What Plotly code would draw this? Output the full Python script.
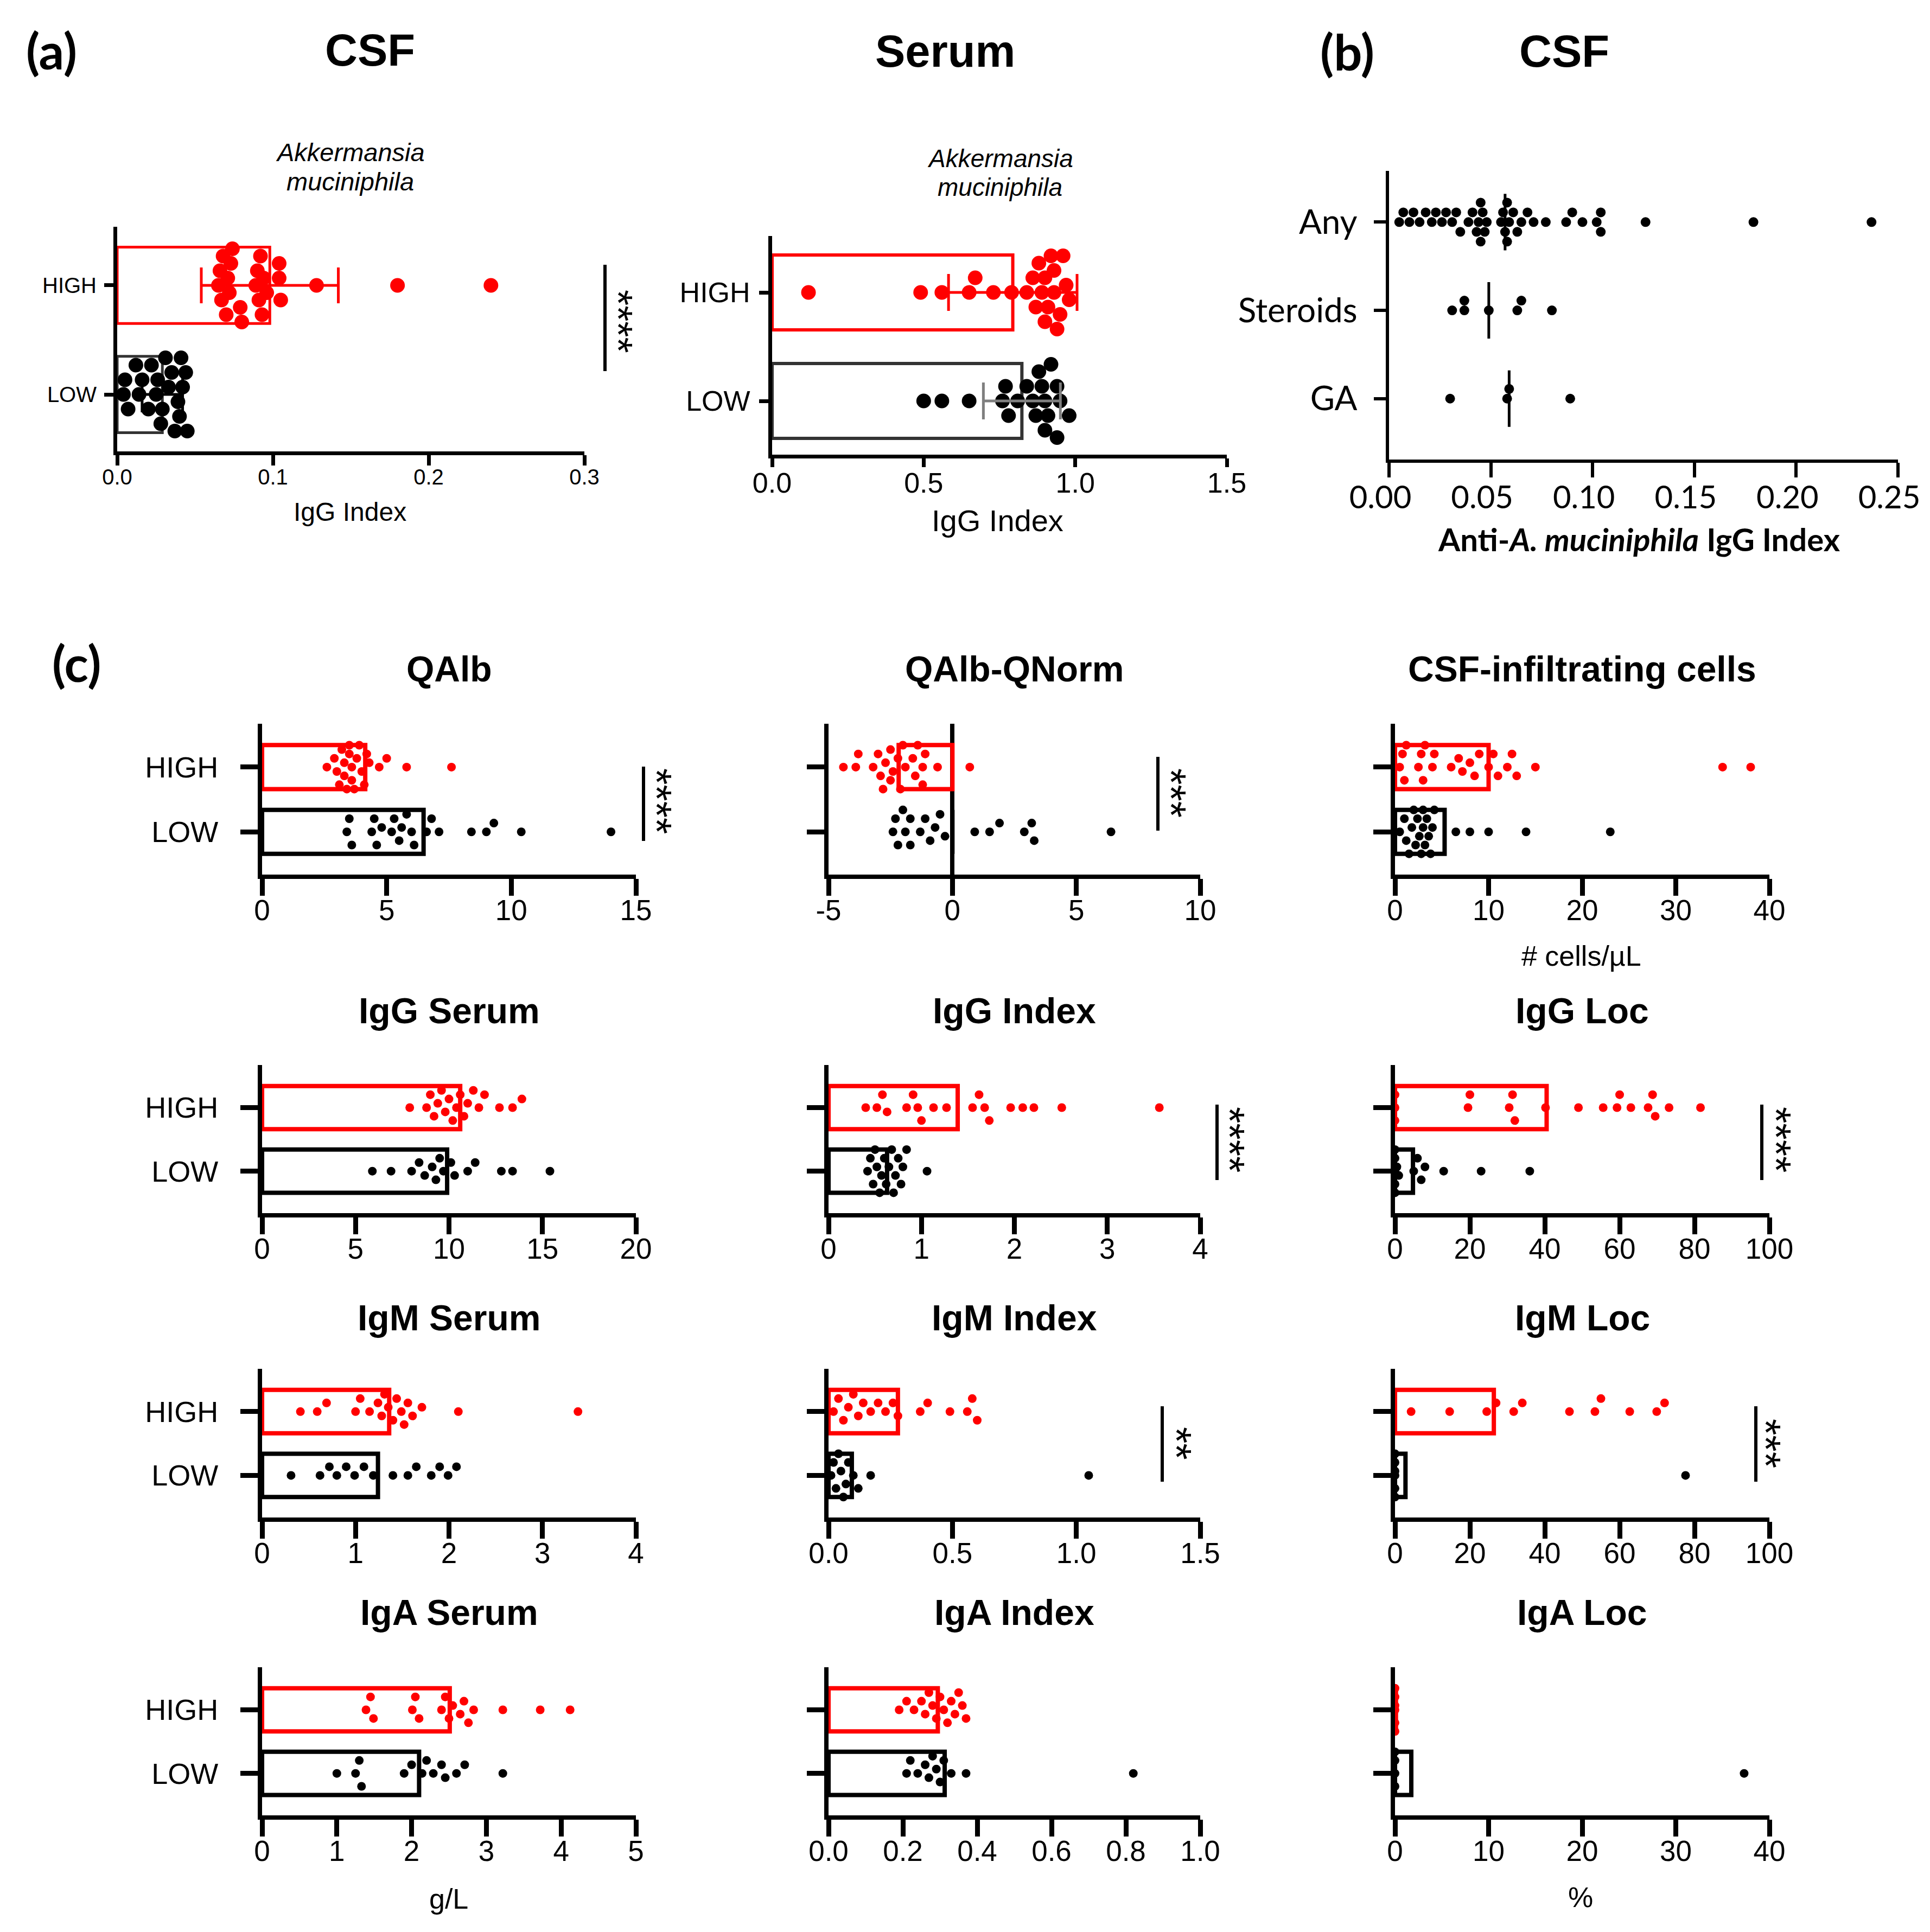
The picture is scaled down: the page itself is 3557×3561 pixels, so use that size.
import plotly.graph_objects as go
import numpy as np

W, H = 3557, 3561
OFF = 8                      # browser body margin
PW, PH = W - 2 * OFF, H - 2 * OFF
RED = "#FF0000"
BLK = "#000000"
ARIAL = "Liberation Sans, Arial, sans-serif"
CALIB = "Lato, Carlito, Calibri, sans-serif"

# ---------------- data ----------------
# (a) anti-A. muciniphila IgG index
a_csf_high = [0.065, 0.066, 0.067, 0.068, 0.070, 0.071, 0.072, 0.073, 0.074, 0.079, 0.080, 0.089,
              0.090, 0.091, 0.092, 0.093, 0.094, 0.096, 0.104, 0.104, 0.105, 0.128, 0.180, 0.240]
a_csf_low = [0.004, 0.005, 0.007, 0.012, 0.014, 0.016, 0.020, 0.022, 0.025, 0.026, 0.028, 0.029,
             0.031, 0.033, 0.035, 0.037, 0.039, 0.040, 0.041, 0.042, 0.044, 0.045]
a_csf_mean = [0.029, 0.098]          # LOW, HIGH
a_csf_sd = [0.013, 0.044]

a_ser_high = [0.12, 0.49, 0.56, 0.65, 0.67, 0.73, 0.79, 0.84, 0.86, 0.87, 0.88, 0.89, 0.90, 0.90,
              0.91, 0.92, 0.93, 0.93, 0.94, 0.95, 0.96, 0.97, 0.98]
a_ser_low = [0.50, 0.56, 0.65, 0.76, 0.77, 0.78, 0.81, 0.84, 0.86, 0.87, 0.88, 0.89, 0.90, 0.90,
             0.91, 0.92, 0.94, 0.94, 0.95, 0.98]
a_ser_mean = [0.824, 0.794]
a_ser_sd = [0.127, 0.212]

# (b) CSF by treatment
b_cats = ["GA", "Steroids", "Any"]
b_any = [0.005, 0.007, 0.010, 0.012, 0.015, 0.018, 0.021, 0.023, 0.026, 0.028, 0.031, 0.033, 0.035,
         0.039, 0.041, 0.043, 0.044, 0.045, 0.045, 0.046, 0.047, 0.048, 0.055, 0.056, 0.057, 0.058,
         0.058, 0.059, 0.061, 0.063, 0.065, 0.068, 0.071, 0.077, 0.087, 0.090, 0.095, 0.102, 0.104,
         0.104, 0.126, 0.179, 0.237]
b_steroids = [0.031, 0.037, 0.037, 0.049, 0.063, 0.065, 0.080]
b_ga = [0.030, 0.058, 0.059, 0.089]
b_median = [0.059, 0.049, 0.057]     # GA, Steroids, Any

# (c) clinical parameters, HIGH vs LOW
qalb_high = [2.6, 2.9, 3.0, 3.1, 3.2, 3.3, 3.3, 3.4, 3.5, 3.5, 3.6, 3.6, 3.7, 3.8, 3.9, 4.0, 4.1,
             4.2, 4.3, 4.7, 5.0, 5.8, 7.6]
qalb_low = [3.4, 3.5, 3.6, 4.4, 4.5, 4.6, 4.8, 5.2, 5.3, 5.5, 5.6, 5.8, 6.0, 6.1, 6.6, 6.8, 7.1,
            8.4, 9.0, 9.3, 10.4, 14.0]
qalb_mean = [6.48, 4.14]

qnorm_high = [-4.4, -3.9, -3.8, -3.2, -3.0, -2.9, -2.8, -2.7, -2.5, -2.5, -2.4, -2.2, -2.1, -2.0,
              -1.9, -1.6, -1.5, -1.4, -1.2, -1.2, -1.1, -0.6, 0.7]
qnorm_low = [-2.4, -2.3, -2.2, -2.0, -1.9, -1.7, -1.7, -1.3, -1.1, -0.9, -0.7, -0.5, -0.3, 0.9,
             1.5, 1.9, 2.9, 3.2, 3.3, 6.4]
qnorm_mean = [0.0, -2.17]

cells_high = [0.5, 0.8, 1.0, 1.2, 2.5, 2.8, 3.0, 3.2, 4.0, 4.2, 6.0, 6.8, 7.2, 8.0, 8.5, 9.0, 10.0,
              10.5, 11.0, 12.0, 12.5, 13.0, 15.0, 35.0, 38.0]
cells_low = [0.5, 1.0, 1.2, 1.5, 1.8, 2.0, 2.2, 2.4, 2.6, 2.8, 3.0, 3.0, 3.2, 3.4, 3.6, 3.8, 4.0,
             4.2, 6.5, 8.0, 10.0, 14.0, 23.0]
cells_mean = [5.3, 10.0]

iggs_high = [7.9, 8.8, 9.0, 9.2, 9.4, 9.6, 9.8, 10.0, 10.2, 10.4, 10.6, 10.8, 11.0, 11.3, 11.6,
             11.9, 12.7, 13.4, 13.9]
iggs_low = [5.9, 6.9, 8.0, 8.4, 8.7, 9.1, 9.3, 9.5, 9.7, 10.1, 10.3, 11.0, 11.4, 12.8, 13.4, 15.4]
iggs_mean = [9.9, 10.6]

iggi_high = [0.40, 0.52, 0.58, 0.63, 0.84, 0.91, 0.96, 1.00, 1.13, 1.27, 1.55, 1.62, 1.68, 1.73,
             1.96, 2.09, 2.21, 2.51, 3.56]
iggi_low = [0.42, 0.45, 0.48, 0.50, 0.52, 0.55, 0.57, 0.60, 0.62, 0.65, 0.68, 0.70, 0.72, 0.75,
            0.78, 0.80, 0.84, 1.06]
iggi_mean = [0.63, 1.39]

iggl_high = [0, 0, 0, 19.5, 20, 30.5, 31.4, 32, 40.2, 49, 55.6, 59.3, 60, 63, 67.6, 68.8, 69.5,
             73.2, 81.6]
iggl_low = [0, 0, 0, 0, 0, 0.5, 1, 5, 6, 7, 8, 13, 23, 36]
iggl_mean = [4.8, 40.5]

igms_high = [0.41, 0.59, 0.69, 1.0, 1.05, 1.15, 1.24, 1.28, 1.31, 1.35, 1.40, 1.44, 1.49, 1.52,
             1.56, 1.61, 1.71, 2.1, 3.38]
igms_low = [0.31, 0.62, 0.72, 0.80, 0.90, 0.99, 1.09, 1.19, 1.40, 1.56, 1.65, 1.81, 1.90, 1.99, 2.08]
igms_mean = [1.24, 1.36]

igmi_high = [0.02, 0.04, 0.06, 0.08, 0.10, 0.12, 0.14, 0.17, 0.20, 0.23, 0.26, 0.28, 0.37, 0.40,
             0.49, 0.56, 0.58, 0.60]
igmi_low = [0.01, 0.02, 0.03, 0.04, 0.05, 0.06, 0.07, 0.08, 0.10, 0.12, 0.17, 1.05]
igmi_mean = [0.094, 0.28]

igml_high = [4.3, 14.6, 24.5, 27, 31.7, 34, 46.6, 53.4, 55, 62.7, 69.9, 72]
igml_low = [0, 0, 0, 0, 0, 0, 77.6]
igml_mean = [2.8, 26.4]

igas_high = [1.39, 1.45, 1.49, 2.01, 2.05, 2.10, 2.40, 2.45, 2.50, 2.55, 2.65, 2.70, 2.76, 2.83,
             3.22, 3.72, 4.12]
igas_low = [1.00, 1.25, 1.30, 1.33, 1.90, 2.00, 2.14, 2.20, 2.29, 2.40, 2.45, 2.60, 2.71, 3.22]
igas_mean = [2.1, 2.51]

igai_high = [0.19, 0.21, 0.23, 0.25, 0.26, 0.27, 0.28, 0.29, 0.30, 0.31, 0.32, 0.33, 0.34, 0.35,
             0.36, 0.37]
igai_low = [0.21, 0.22, 0.24, 0.26, 0.27, 0.28, 0.29, 0.30, 0.31, 0.33, 0.37, 0.82]
igai_mean = [0.3125, 0.294]

igal_high = [0, 0, 0, 0, 0, 0]
igal_low = [0, 0, 0, 0, 37.3]
igal_mean = [1.74, 0.1]

# tick values
t_qalb = [0, 5, 10, 15]
t_qnorm = [-5, 0, 5, 10]
t_cells = [0, 10, 20, 30, 40]
t_iggs = [0, 5, 10, 15, 20]
t_iggi = [0, 1, 2, 3, 4]
t_loc = [0, 20, 40, 60, 80, 100]
t_igms = [0, 1, 2, 3, 4]
t_igmi = [0.0, 0.5, 1.0, 1.5]
t_igas = [0, 1, 2, 3, 4, 5]
t_igai = [0.0, 0.2, 0.4, 0.6, 0.8, 1.0]
t_igal = [0, 10, 20, 30, 40]

# ---------------- helpers ----------------
def fx(x):
    return (x - OFF) / PW


def fy(y):
    return 1 - (y - OFF) / PH


fig = go.Figure()
lay = {}
annotations = []
shapes = []


def axnames(n):
    return ("x" if n == 1 else f"x{n}"), ("y" if n == 1 else f"y{n}"), \
           ("xaxis" if n == 1 else f"xaxis{n}"), ("yaxis" if n == 1 else f"yaxis{n}")


def swarm(vals, xppu, yppu, d, maxoff, sep=1.1):
    order = sorted(range(len(vals)), key=lambda i: vals[i])
    placed = []
    offs = [0.0] * len(vals)
    step = d * 0.5
    cands = [0.0]
    k = 1
    while k * step <= maxoff:
        cands += [k * step, -k * step]
        k += 1
    for i in order:
        xp = vals[i] * xppu
        best, bestscore = 0.0, -1.0
        for c in cands:
            md = min([np.hypot(xp - p, c - q) for p, q in placed] or [1e9])
            if md >= d * sep:
                best = c
                break
            if md > bestscore:
                bestscore, best = md, c
        placed.append((xp, best))
        offs[i] = best / yppu
    return offs


def add_axes(n, xpx, ypx, xr, yr, tickvals, ticktext, xfont, ycats, ylabels, yfont,
             lw, tlx, tly, tw, standoff, zeroline=False, shift=0, xstand=0):
    xr_name, yr_name, xa, ya = axnames(n)
    lay[xa] = dict(domain=[fx(xpx[0]), fx(xpx[1])], range=xr, anchor=yr_name,
                   showline=True, linecolor=BLK, linewidth=lw, ticks="outside",
                   ticklen=tlx, tickwidth=tw, tickcolor=BLK, tickvals=tickvals,
                   ticktext=ticktext, tickfont=xfont, showgrid=False, automargin=False,
                   zeroline=zeroline, zerolinecolor=BLK, zerolinewidth=lw,
                   ticklabelshift=shift, ticklabelstandoff=xstand)
    lay[ya] = dict(domain=[fy(ypx[1]), fy(ypx[0])], range=yr, anchor=xr_name,
                   showline=True, linecolor=BLK, linewidth=lw, ticks="outside",
                   ticklen=tly, tickwidth=tw, tickcolor=BLK, tickvals=ycats,
                   ticktext=ylabels, tickfont=yfont, showgrid=False, zeroline=False,
                   automargin=False, ticklabelstandoff=standoff)
    return xr_name, yr_name


def add_points(xn, yn, vals, cat, color, d, xppu, yppu, maxoff, sep=1.1):
    offs = swarm(vals, xppu, yppu, d, maxoff, sep)
    fig.add_trace(go.Scatter(x=vals, y=[cat + o for o in offs], mode="markers",
                             marker=dict(size=d, color=color, line=dict(width=0)),
                             xaxis=xn, yaxis=yn, cliponaxis=False, hoverinfo="skip"))


def add_bar(xn, yn, means, colors, width, lw):
    fig.add_trace(go.Bar(x=means, y=[0, 1], orientation="h", width=width,
                         marker=dict(color="rgba(0,0,0,0)", line=dict(color=colors, width=lw)),
                         xaxis=xn, yaxis=yn, cliponaxis=False, hoverinfo="skip"))


def text(s, xp, yp, size, family=ARIAL, angle=0, color=BLK):
    annotations.append(dict(text=s, x=fx(xp), y=fy(yp), xref="paper", yref="paper",
                            xanchor="center", yanchor="middle", showarrow=False,
                            textangle=angle, font=dict(size=size, family=family, color=color)))


def sig(xp, y0, y1, stars, sx, sy, size=78):
    shapes.append(dict(type="line", xref="paper", yref="paper", x0=fx(xp), x1=fx(xp),
                       y0=fy(y0), y1=fy(y1), line=dict(color=BLK, width=6)))
    text(stars, sx - 12, sy, size, angle=90)


def fmt(v, dec):
    return f"{v:.{dec}f}"


# ---------------- panel (a) CSF ----------------
xpx, ypx = (216, 1077), (418, 832)
ta = [0, 0.1, 0.2, 0.3]
xn, yn = add_axes(1, xpx, ypx, [0, 0.3], [-0.522, 1.537], ta, [fmt(v, 1) for v in ta],
                  dict(size=40, family=ARIAL, color=BLK), [0, 1], ["LOW", "HIGH"],
                  dict(size=40, family=ARIAL, color=BLK), 7, 19, 17, 7, 6, xstand=-13)
xppu = (xpx[1] - xpx[0]) / 0.3
add_bar(xn, yn, a_csf_mean, ["#333333", RED], 0.70, 5)
add_points(xn, yn, a_csf_low, 0, BLK, 27, xppu, 201, 68, 1.0)
add_points(xn, yn, a_csf_high, 1, RED, 27, xppu, 201, 68, 1.0)
for cat, col in [(0, BLK), (1, RED)]:
    fig.add_trace(go.Scatter(x=[a_csf_mean[cat]], y=[cat], mode="markers",
                             marker=dict(size=1, color="rgba(0,0,0,0)"),
                             error_x=dict(type="data", array=[a_csf_sd[cat]], color=col,
                                          thickness=5, width=33),
                             xaxis=xn, yaxis=yn, cliponaxis=False, hoverinfo="skip"))
text("<b>(a)</b>", 95, 92, 92, CALIB)
text("<b>CSF</b>", 682, 92, 83)
text("<i>Akkermansia</i>", 645, 281, 47)
text("<i>muciniphila</i>", 645, 335, 47)
text("IgG Index", 645, 943, 48)
sig(1115, 488, 684, "****", 1152, 592, 75)

# ---------------- panel (a) Serum ----------------
xpx, ypx = (1423, 2261), (435, 838)
ts = [0, 0.5, 1.0, 1.5]
xn, yn = add_axes(2, xpx, ypx, [0, 1.5], [-0.495, 1.52], ts, [fmt(v, 1) for v in ts],
                  dict(size=52, family=ARIAL, color=BLK), [0, 1], ["LOW", "HIGH"],
                  dict(size=52, family=ARIAL, color=BLK), 7, 16, 17, 7, 6, xstand=-15)
xppu = (xpx[1] - xpx[0]) / 1.5
add_bar(xn, yn, a_ser_mean, ["#333333", RED], 0.69, 6)
add_points(xn, yn, a_ser_low, 0, BLK, 27, xppu, 200, 68, 1.0)
add_points(xn, yn, a_ser_high, 1, RED, 27, xppu, 200, 68, 1.0)
for cat, col in [(0, "#7f7f7f"), (1, RED)]:
    fig.add_trace(go.Scatter(x=[a_ser_mean[cat]], y=[cat], mode="markers",
                             marker=dict(size=1, color="rgba(0,0,0,0)"),
                             error_x=dict(type="data", array=[a_ser_sd[cat]], color=col,
                                          thickness=5, width=34),
                             xaxis=xn, yaxis=yn, cliponaxis=False, hoverinfo="skip"))
text("<b>Serum</b>", 1742, 95, 83)
text("<i>Akkermansia</i>", 1843, 292, 46)
text("<i>muciniphila</i>", 1843, 345, 46)
text("IgG Index", 1839, 960, 56)

# ---------------- panel (b) ----------------
xpx, ypx = (2560, 3498), (315, 847)
bt = [0, 0.05, 0.10, 0.15, 0.20, 0.25]
xn, yn = add_axes(3, xpx, ypx, [0, 0.25], [-0.69, 2.58], bt, [fmt(v, 2) for v in bt],
                  dict(size=58, family=CALIB, color=BLK), [0, 1, 2], b_cats,
                  dict(size=62, family=CALIB, color=BLK), 6, 27, 22, 6, 18, shift=-16, xstand=-13)
xppu = (xpx[1] - xpx[0]) / 0.25
for cat, vals in enumerate([b_ga, b_steroids, b_any]):
    add_points(xn, yn, vals, cat, BLK, 18, xppu, 163, 52, 1.0)
    shapes.append(dict(type="line", xref=xn, yref=yn, x0=b_median[cat], x1=b_median[cat],
                       y0=cat - 0.32, y1=cat + 0.32, line=dict(color=BLK, width=5)))
text("<b>(b)</b>", 2483, 94, 92, CALIB)
text("<b>CSF</b>", 2883, 94, 83)
text("<b>Anti-<i>A. muciniphila</i> IgG Index</b>", 3021, 994, 58, CALIB)

# ---------------- panel (c) ----------------
COLX = [(483, 1172), (1527, 2212), (2571, 3261)]
ROWY = [(1334, 1612), (1963, 2236), (2523, 2797), (3073, 3346)]
TITLEY = [1233, 1863, 2429, 2972]

panels_c = [
    ("QAlb", qalb_high, qalb_low, qalb_mean, [0, 15], t_qalb, 0, 0, (1186, 1413, 1550, "****", 1222, 1476)),
    ("QAlb-QNorm", qnorm_high, qnorm_low, qnorm_mean, [-5, 10], t_qnorm, 1, 0, (2134, 1395, 1531, "***", 2170, 1461)),
    ("CSF-infiltrating cells", cells_high, cells_low, cells_mean, [0, 40], t_cells, 2, 0, None),
    ("IgG Serum", iggs_high, iggs_low, iggs_mean, [0, 20], t_iggs, 0, 1, None),
    ("IgG Index", iggi_high, iggi_low, iggi_mean, [0, 4], t_iggi, 1, 1, (2243, 2036, 2175, "****", 2278, 2100)),
    ("IgG Loc", iggl_high, iggl_low, iggl_mean, [0, 100], t_loc, 2, 1, (3247, 2036, 2175, "****", 3285, 2100)),
    ("IgM Serum", igms_high, igms_low, igms_mean, [0, 4], t_igms, 0, 2, None),
    ("IgM Index", igmi_high, igmi_low, igmi_mean, [0, 1.5], t_igmi, 1, 2, (2142, 2592, 2731, "**", 2180, 2660)),
    ("IgM Loc", igml_high, igml_low, igml_mean, [0, 100], t_loc, 2, 2, (3236, 2592, 2731, "***", 3266, 2660)),
    ("IgA Serum", igas_high, igas_low, igas_mean, [0, 5], t_igas, 0, 3, None),
    ("IgA Index", igai_high, igai_low, igai_mean, [0, 1.0], t_igai, 1, 3, None),
    ("IgA Loc", igal_high, igal_low, igal_mean, [0, 40], t_igal, 2, 3, None),
]

n = 4
for title, hi, lo, mean, xr, tv, col, row, sg in panels_c:
    xpx, ypx = COLX[col], ROWY[row]
    dec = 1 if any(abs(v - round(v)) > 1e-9 for v in tv) else 0
    tt = [fmt(v, dec) for v in tv]
    ylab = ["LOW", "HIGH"] if col == 0 else ["", ""]
    xn, yn = add_axes(n, xpx, ypx, xr, [-0.66, 1.67], tv, tt,
                      dict(size=53, family=ARIAL, color=BLK), [0, 1], ylab,
                      dict(size=54, family=ARIAL, color=BLK), 8, 31, 32, 9, 30,
                      zeroline=(xr[0] < 0), xstand=-19)
    xppu = (xpx[1] - xpx[0]) / (xr[1] - xr[0])
    add_bar(xn, yn, mean, [BLK, RED], 0.68, 8)
    add_points(xn, yn, lo, 0, BLK, 16, xppu, 118, 40, 1.25)
    add_points(xn, yn, hi, 1, RED, 16, xppu, 118, 40, 1.25)
    text(f"<b>{title}</b>", (xpx[0] + xpx[1]) / 2, TITLEY[row], 66)
    if sg:
        sig(sg[0], sg[1], sg[2], sg[3], sg[4], sg[5])
    n += 1

text("<b>(c)</b>", 141, 1222, 92, CALIB)
text("# cells/\u00b5L", 2914, 1762, 52)
text("g/L", 827, 3500, 52)
text("%", 2913, 3497, 52)

fig.update_layout(width=PW, height=PH, margin=dict(l=0, r=0, t=0, b=0, pad=0, autoexpand=False),
                  paper_bgcolor="white", plot_bgcolor="white", showlegend=False,
                  barmode="overlay", annotations=annotations, shapes=shapes,
                  font=dict(family=ARIAL, color=BLK), **lay)
fig.write_html("out.html")
